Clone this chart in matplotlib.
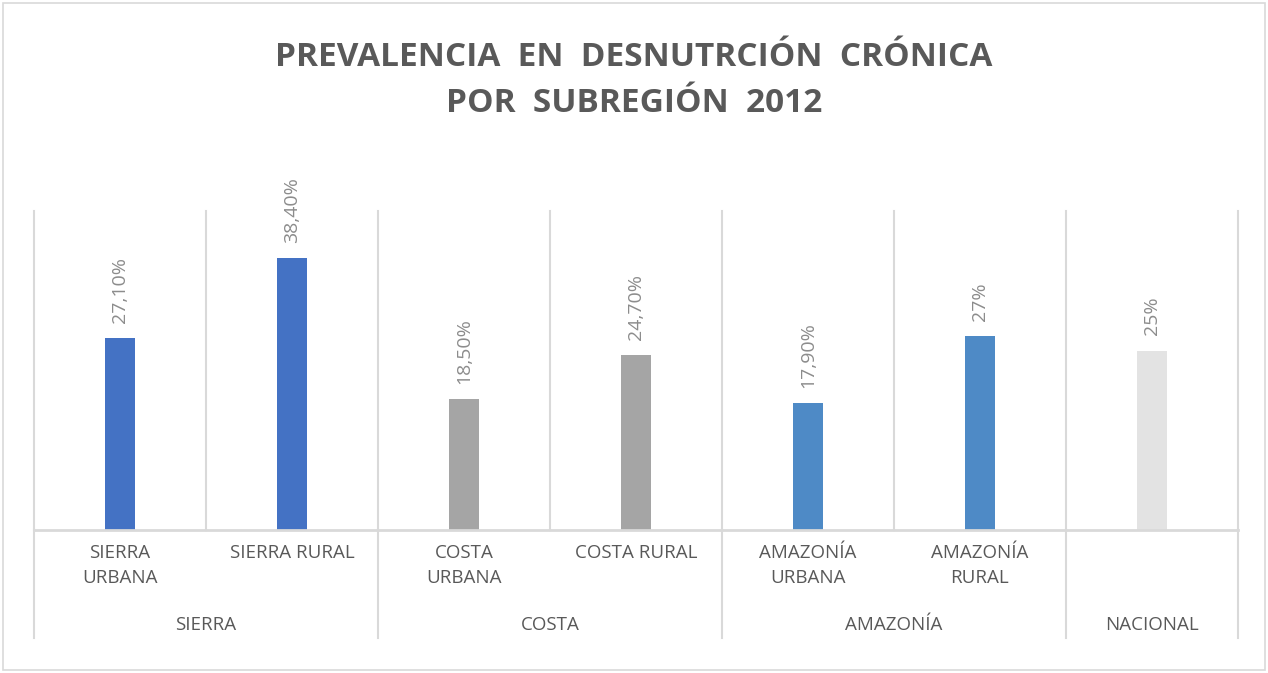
import matplotlib.pyplot as plt
from matplotlib.transforms import blended_transform_factory
from matplotlib.patches import Rectangle

categories = ['SIERRA\nURBANA', 'SIERRA RURAL', 'COSTA\nURBANA', 'COSTA RURAL',
              'AMAZONÍA\nURBANA', 'AMAZONÍA\nRURAL', '']
values = [27.1, 38.4, 18.5, 24.7, 17.9, 27.3, 25.3]
value_labels = ['27,10%', '38,40%', '18,50%', '24,70%', '17,90%', '27%', '25%']
groups = ['SIERRA', 'COSTA', 'AMAZONÍA', 'NACIONAL']
group_sizes = [2, 2, 2, 1]
colors = ['#4472C4', '#4472C4', '#A5A5A5', '#A5A5A5', '#4E8AC6', '#4E8AC6', '#E3E3E3']

plt.rcParams['font.family'] = ['Open Sans', 'DejaVu Sans']
grid_col = '#D9D9D9'

fig = plt.figure(figsize=(12.68, 6.73), dpi=100)
fig.patches.append(Rectangle((0.002, 0.004), 0.996, 0.992, transform=fig.transFigure,
                             fill=False, edgecolor=grid_col, linewidth=1.2))
ax = fig.add_axes([34 / 1268, 1 - 530 / 673, 1204 / 1268, 319 / 673])

x = list(range(len(values)))
ax.bar(x, values, width=0.175, color=colors, zorder=3)
ax.set_xlim(-0.5, len(values) - 0.5)
ax.set_ylim(0, 45)
ax.set_xticks([])
ax.set_yticks([])
for s in ax.spines.values():
    s.set_visible(False)

for xi, v, lab in zip(x, values, value_labels):
    ax.annotate(lab, (xi, v), xytext=(0, 11), textcoords='offset points',
                rotation=90, ha='center', va='bottom', fontsize=14, color='#8C8C8C')

tr = blended_transform_factory(ax.transData, ax.transAxes)
# category dividers inside plot
for b in range(len(values) + 1):
    ax.plot([b - 0.5, b - 0.5], [0, 1], color=grid_col, lw=1.5, transform=tr, clip_on=False, zorder=1)
ax.plot([-0.5, len(values) - 0.5], [0, 0], color=grid_col, lw=2, transform=tr, clip_on=False, zorder=4)

# sub labels
for xi, c in zip(x, categories):
    ax.text(xi, -0.045, c, transform=tr, ha='center', va='top', fontsize=13.5,
            color='#595959', linespacing=1.45)

# group labels and dividers
start = 0
bounds = [-0.5]
for g, n in zip(groups, group_sizes):
    center = start + (n - 1) / 2
    ax.text(center, -0.298, g, transform=tr, ha='center', va='center', fontsize=13.5, color='#595959')
    start += n
    bounds.append(start - 0.5)
for b in bounds:
    ax.plot([b, b], [0, -0.34], color=grid_col, lw=1.5, transform=tr, clip_on=False)

fig.text(0.5, 1 - 57 / 673, 'PREVALENCIA  EN  DESNUTRCIÓN  CRÓNICA', ha='center', va='center',
         fontsize=24, fontweight='bold', color='#595959')
fig.text(0.5, 1 - 103 / 673, 'POR  SUBREGIÓN  2012', ha='center', va='center',
         fontsize=24, fontweight='bold', color='#595959')

fig.savefig('out.png', dpi=100)
